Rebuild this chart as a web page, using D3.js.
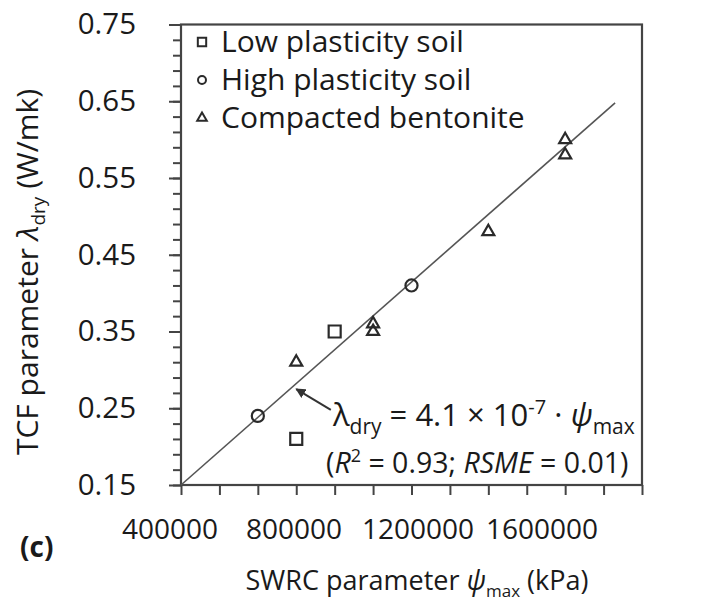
<!DOCTYPE html>
<html><head><meta charset="utf-8">
<script src="https://cdn.jsdelivr.net/npm/d3@7"></script>
<style>
body{margin:0;background:#fff}
text{font-family:"Open Sans",sans-serif;fill:#1a1a1a}
</style>
</head><body>
<svg id="c" width="710" height="603"></svg>
<script>
// ---- data ----
const lowPsi  = [800000, 700000];
const lowLam  = [0.35, 0.21];
const highPsi = [600000, 1000000];
const highLam = [0.24, 0.41];
const bentPsi = [700000, 900000, 900000, 1200000, 1400000, 1400000];
const bentLam = [0.31, 0.36, 0.35, 0.48, 0.60, 0.58];
const fitPsi  = [400000, 1530000];
const fitLam  = [0.15, 0.648];
const xTickLabels = [400000, 800000, 1200000, 1600000];
const yTickLabels = [0.15, 0.25, 0.35, 0.45, 0.55, 0.65, 0.75];
const legendLabels = ["Low plasticity soil", "High plasticity soil", "Compacted bentonite"];

// ---- layout ----
const L = 181, T = 24.5, R = 642, B = 485;
const svg = d3.select("#c");
const x = d3.scaleLinear().domain([400000, 1600000]).range([L, R]);
const y = d3.scaleLinear().domain([0.15, 0.75]).range([B, T]);
const xLab = d3.scaleLinear().domain([400000, 1600000]).range([170, 542]);
const axisColor = "#444";

// x ticks (outward)
const gx = svg.append("g").attr("transform", `translate(0,${B})`)
  .call(d3.axisBottom(x).tickValues(d3.range(400000, 1600001, 100000)).tickSize(10).tickFormat(""));
gx.select(".domain").remove();
gx.selectAll("line").attr("stroke", axisColor).attr("stroke-width", 2);

// x tick labels
svg.append("g").selectAll("text").data(xTickLabels).join("text")
  .attr("x", d => xLab(d)).attr("y", 539).attr("text-anchor", "middle")
  .attr("font-size", 28).text(d => d);

// y minor ticks
const gyMinor = svg.append("g").attr("transform", `translate(${L},0)`)
  .call(d3.axisLeft(y).tickValues(d3.range(0, 31).map(i => 0.15 + i * 0.02)).tickSize(8).tickFormat(""));
gyMinor.select(".domain").remove();
gyMinor.selectAll("line").attr("stroke", axisColor).attr("stroke-width", 2);

// y major ticks with labels
const gy = svg.append("g").attr("transform", `translate(${L},0)`)
  .call(d3.axisLeft(y).tickValues(yTickLabels).tickSize(12).tickPadding(33).tickFormat(d3.format(".2f")));
gy.select(".domain").remove();
gy.selectAll("line").attr("stroke", axisColor).attr("stroke-width", 2);
gy.selectAll("text").attr("font-size", 29.5).attr("fill", "#1a1a1a")
  .attr("font-family", '"Open Sans",sans-serif');

// frame
svg.append("rect").attr("x", L).attr("y", T).attr("width", R - L).attr("height", B - T)
  .attr("fill", "none").attr("stroke", axisColor).attr("stroke-width", 2.2);

// fit line
svg.append("line")
  .attr("x1", x(fitPsi[0])).attr("y1", y(fitLam[0]))
  .attr("x2", x(fitPsi[1])).attr("y2", y(fitLam[1]))
  .attr("stroke", "#555").attr("stroke-width", 1.6);

// markers
const mk = "#2a2a2a";
const sq = d3.symbol().type(d3.symbolSquare).size(144);
const ci = d3.symbol().type(d3.symbolCircle).size(115);
const tr = d3.symbol().type(d3.symbolTriangle).size(62);

svg.append("g").selectAll("path").data(lowPsi.map((p, i) => [p, lowLam[i]])).join("path")
  .attr("d", sq).attr("transform", d => `translate(${x(d[0])},${y(d[1])})`)
  .attr("fill", "none").attr("stroke", mk).attr("stroke-width", 2.2);
svg.append("g").selectAll("path").data(highPsi.map((p, i) => [p, highLam[i]])).join("path")
  .attr("d", ci).attr("transform", d => `translate(${x(d[0])},${y(d[1])})`)
  .attr("fill", "none").attr("stroke", mk).attr("stroke-width", 2.2);
svg.append("g").selectAll("path").data(bentPsi.map((p, i) => [p, bentLam[i]])).join("path")
  .attr("d", tr).attr("transform", d => `translate(${x(d[0])},${y(d[1])})`)
  .attr("fill", "none").attr("stroke", mk).attr("stroke-width", 2.2);

// legend
const leg = svg.append("g");
legendLabels.forEach((t, i) => {
  const yy = 42 + i * 38;
  leg.append("path").attr("d", d3.symbol().type([d3.symbolSquare, d3.symbolCircle, d3.symbolTriangle][i]).size([70, 50, 40][i])())
    .attr("transform", `translate(202,${yy})`).attr("fill", "none").attr("stroke", mk).attr("stroke-width", 2);
  leg.append("text").attr("x", 221).attr("y", yy + 10).attr("font-size", 30).text(t);
});

// arrow annotation
svg.append("defs").append("marker").attr("id", "ah").attr("viewBox", "0 0 10 10")
  .attr("refX", 9).attr("refY", 5).attr("markerWidth", 10).attr("markerHeight", 10)
  .attr("orient", "auto").attr("markerUnits", "userSpaceOnUse")
  .append("path").attr("d", "M0,0 L10,5 L0,10 z").attr("fill", "#333");
svg.append("line")
  .attr("x1", x(790000)).attr("y1", y(0.248))
  .attr("x2", x(700000)).attr("y2", y(0.275))
  .attr("stroke", "#333").attr("stroke-width", 2).attr("marker-end", "url(#ah)");

const eq = svg.append("text").attr("x", 333).attr("y", 426).attr("font-size", 31);
eq.append("tspan").text("λ");
eq.append("tspan").attr("font-size", 21).attr("dy", 8).text("dry");
eq.append("tspan").attr("dy", -8).text(" = 4.1 × 10");
eq.append("tspan").attr("font-size", 20).attr("dy", -12).text("-7");
eq.append("tspan").attr("dy", 12).text(" · ");
eq.append("tspan").attr("font-style", "italic").text("ψ");
eq.append("tspan").attr("font-size", 21).attr("dy", 8).text("max");

const r2 = svg.append("text").attr("x", 326).attr("y", 473).attr("font-size", 28.5);
r2.append("tspan").text("(");
r2.append("tspan").attr("font-style", "italic").text("R");
r2.append("tspan").attr("font-size", 18).attr("dy", -11).text("2");
r2.append("tspan").attr("dy", 11).text(" = 0.93; ");
r2.append("tspan").attr("font-style", "italic").text("RSME");
r2.append("tspan").text(" = 0.01)");

// axis titles
const xt = svg.append("text").attr("x", 417).attr("y", 590).attr("text-anchor", "middle").attr("font-size", 27);
xt.append("tspan").text("SWRC parameter ");
xt.append("tspan").attr("font-style", "italic").text("ψ");
xt.append("tspan").attr("font-size", 17).attr("dy", 7).text("max");
xt.append("tspan").attr("dy", -7).text(" (kPa)");

const yt = svg.append("text").attr("transform", "translate(38,272) rotate(-90)").attr("text-anchor", "middle").attr("font-size", 30);
yt.append("tspan").text("TCF parameter ");
yt.append("tspan").attr("font-style", "italic").text("λ");
yt.append("tspan").attr("font-size", 19).attr("dy", 7).text("dry");
yt.append("tspan").attr("dy", -7).text(" (W/mk)");

svg.append("text").attr("x", 20).attr("y", 557).attr("font-size", 28).attr("font-weight", "bold").text("(c)");
</script>
</body></html>
